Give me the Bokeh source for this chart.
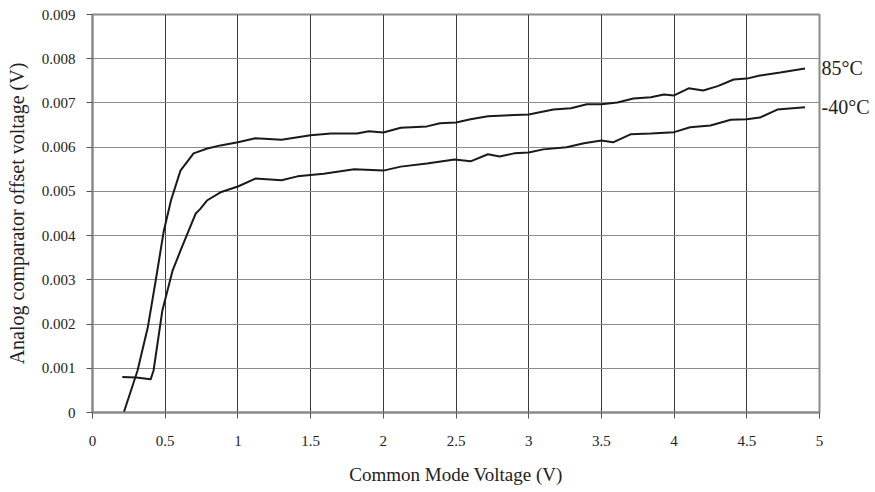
from bokeh.plotting import figure
from bokeh.models import ColumnDataSource, FixedTicker, LinearAxis, Range1d
from bokeh.embed import file_html
from bokeh.resources import INLINE

# ---- data ----
hot_label = "85°C"
hot_x = [0.215, 0.31, 0.38, 0.435, 0.49, 0.54, 0.605, 0.695, 0.79, 0.88, 1.0, 1.12, 1.3,
         1.5, 1.64, 1.82, 1.9, 2.0, 2.12, 2.3, 2.39, 2.5, 2.6, 2.72, 3.0, 3.17, 3.29,
         3.4, 3.5, 3.61, 3.72, 3.84, 3.93, 4.0, 4.1, 4.2, 4.3, 4.41, 4.5, 4.59, 4.73, 4.9]
hot_y = [0.0, 0.00095, 0.00192, 0.00299, 0.0041, 0.0048, 0.00547, 0.00586, 0.00597, 0.00604,
         0.00611, 0.0062, 0.00617, 0.00627, 0.00631, 0.00631, 0.00636, 0.00633, 0.00644,
         0.00647, 0.00654, 0.00656, 0.00663, 0.0067, 0.00674, 0.00685, 0.00688, 0.00697,
         0.00697, 0.00701, 0.0071, 0.00713, 0.00719, 0.00717, 0.00733, 0.00728, 0.00738,
         0.00753, 0.00755, 0.00762, 0.00769, 0.00778]

cold_label = "-40°C"
cold_x = [0.205, 0.30, 0.40, 0.42, 0.48, 0.55, 0.605, 0.66, 0.71, 0.74, 0.79, 0.88, 1.0,
          1.12, 1.3, 1.41, 1.59, 1.8, 2.0, 2.12, 2.3, 2.49, 2.6, 2.72, 2.8, 2.9, 3.0, 3.1,
          3.26, 3.38, 3.5, 3.58, 3.7, 3.84, 4.0, 4.11, 4.25, 4.39, 4.5, 4.59, 4.71, 4.9]
cold_y = [0.0008, 0.00079, 0.00075, 0.00095, 0.0023, 0.0032, 0.00366, 0.0041, 0.0045,
          0.0046, 0.0048, 0.00498, 0.00511, 0.00529, 0.00525, 0.00534, 0.0054, 0.0055,
          0.00547, 0.00556, 0.00563, 0.00572, 0.00568, 0.00584, 0.00579, 0.00586, 0.00588,
          0.00595, 0.006, 0.00609, 0.00615, 0.00611, 0.00629, 0.00631, 0.00634, 0.00645,
          0.00649, 0.00662, 0.00663, 0.00667, 0.00685, 0.0069]

x_ticks = [0, 0.5, 1, 1.5, 2, 2.5, 3, 3.5, 4, 4.5, 5]
x_tick_labels = ["0", "0.5", "1", "1.5", "2", "2.5", "3", "3.5", "4", "4.5", "5"]
y_ticks = [0, 0.001, 0.002, 0.003, 0.004, 0.005, 0.006, 0.007, 0.008, 0.009]
y_tick_labels = ["0", "0.001", "0.002", "0.003", "0.004", "0.005", "0.006", "0.007",
                 "0.008", "0.009"]

x_title = "Common Mode Voltage (V)"
y_title = "Analog comparator offset voltage (V)"

FONT = "Liberation Serif"
TEXT_COLOR = "#222222"

p = figure(width=872, height=490, output_backend="svg", toolbar_location=None,
           x_range=Range1d(0, 5), y_range=Range1d(0, 0.009),
           min_border_left=92, min_border_right=53, min_border_top=14, min_border_bottom=78)
p.background_fill_color = "white"
p.border_fill_color = "white"
p.outline_line_color = "#8a8a8a"
p.outline_line_width = 2

# grid
p.xgrid.ticker = FixedTicker(ticks=x_ticks)
p.ygrid.ticker = FixedTicker(ticks=y_ticks)
p.xgrid.grid_line_color = "#3a3a3a"
p.xgrid.grid_line_width = 1
p.ygrid.grid_line_color = "#8c8c8c"
p.ygrid.grid_line_width = 1

# axes
for ax in (p.xaxis[0], p.yaxis[0]):
    ax.axis_line_color = "#8a8a8a"
    ax.axis_line_width = 2
    ax.major_tick_line_color = "#555555"
    ax.major_tick_out = 6
    ax.major_tick_in = 0
    ax.minor_tick_line_color = None
    ax.major_label_text_font = FONT
    ax.major_label_text_font_size = "15px"
    ax.major_label_text_color = TEXT_COLOR
    ax.axis_label_text_font = FONT
    ax.axis_label_text_font_style = "normal"
    ax.axis_label_text_color = TEXT_COLOR

p.xaxis[0].ticker = FixedTicker(ticks=x_ticks)
p.xaxis[0].major_label_overrides = {t: l for t, l in zip(x_ticks, x_tick_labels)}
p.xaxis[0].major_label_standoff = 17
p.xaxis[0].axis_label = x_title
p.xaxis[0].axis_label_text_font_size = "19px"
p.xaxis[0].axis_label_standoff = 15

p.yaxis[0].ticker = FixedTicker(ticks=y_ticks)
p.yaxis[0].major_label_overrides = {t: l for t, l in zip(y_ticks, y_tick_labels)}
p.yaxis[0].major_label_standoff = 11
p.yaxis[0].axis_label = y_title
p.yaxis[0].axis_label_text_font_size = "20px"
p.yaxis[0].axis_label_standoff = 11

# curves
hot_src = ColumnDataSource(dict(x=hot_x, y=hot_y))
cold_src = ColumnDataSource(dict(x=cold_x, y=cold_y))
p.line("x", "y", source=hot_src, line_color="#1a1a1a", line_width=2)
p.line("x", "y", source=cold_src, line_color="#1a1a1a", line_width=2)

# end-of-curve labels, drawn as a tick-less right axis so they sit outside the frame
end_axis = LinearAxis(ticker=FixedTicker(ticks=[hot_y[-1], cold_y[-1]]),
                      major_label_overrides={hot_y[-1]: hot_label, cold_y[-1]: cold_label})
end_axis.axis_line_color = None
end_axis.major_tick_line_color = None
end_axis.minor_tick_line_color = None
end_axis.major_tick_out = 0
end_axis.major_tick_in = 0
end_axis.major_label_standoff = 2
end_axis.major_label_text_font = FONT
end_axis.major_label_text_font_size = "20px"
end_axis.major_label_text_color = TEXT_COLOR
p.add_layout(end_axis, "right")

open("out.html", "w").write(file_html(p, INLINE))
